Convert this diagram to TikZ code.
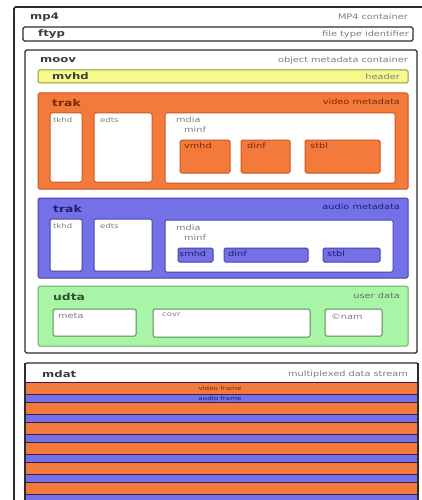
\documentclass[tikz,border=0pt]{standalone}
\usepackage{fontspec}
\setmainfont{DejaVu Sans}
\newfontfamily\widefont[FakeStretch=1.3]{DejaVu Sans}
\usetikzlibrary{positioning}
\definecolor{framegray}{RGB}{45,45,45}
\definecolor{labelgray}{RGB}{60,60,60}
\definecolor{descgray}{RGB}{125,125,125}
\definecolor{vidfill}{RGB}{243,122,58}
\definecolor{viddraw}{RGB}{205,85,30}
\definecolor{vidtext}{RGB}{120,40,10}
\definecolor{audfill}{RGB}{115,112,232}
\definecolor{auddraw}{RGB}{70,68,170}
\definecolor{audtext}{RGB}{30,30,110}
\definecolor{usrfill}{RGB}{168,245,168}
\definecolor{usrdraw}{RGB}{110,170,110}
\definecolor{usrtext}{RGB}{50,80,50}
\definecolor{hdrfill}{RGB}{245,250,140}
\definecolor{hdrdraw}{RGB}{150,150,60}
\definecolor{stripeline}{RGB}{60,30,70}
\tikzset{
    atom/.style={draw=#1, line width=1pt, rounded corners=1.5pt, anchor=north west, inner sep=0pt, outer sep=0pt},
    boxname/.style={font=\widefont\fontsize{9}{9}\selectfont\bfseries, text=labelgray, inner sep=0pt, anchor=west},
    boxdesc/.style={font=\widefont\fontsize{7.5}{7.5}\selectfont, text=descgray, inner sep=0pt, anchor=east},
    subname/.style={font=\widefont\fontsize{6.5}{6.5}\selectfont, text=descgray, inner sep=0pt, anchor=north west}
}
\begin{document}
\begin{tikzpicture}[x=1pt, y=-1pt]
                        \useasboundingbox (0,0) rectangle (422,500);
                        \clip (0,0) rectangle (422,500);
                        \fill[white] (0,0) rectangle (422,500);

                        \node[atom=framegray, line width=1.6pt, minimum width=430pt, minimum height=520pt] (mp4) at (14,7) {};
                        \node[boxname] (mp4name) at (30,17) {mp4};
                        \node[boxdesc] (mp4desc) at (408,17) {MP4 container};

                        \node[atom=framegray, line width=1.4pt, minimum width=390pt, minimum height=14pt] (ftyp) at (23,27) {};
                        \node[boxname, right=15pt of ftyp.west] (ftypname) {ftyp};
                        \node[boxdesc, left=4pt of ftyp.east] (ftypdesc) {file type identifier};

                        \node[atom=framegray, line width=1.4pt, minimum width=392pt, minimum height=303pt] (moov) at (25,50) {};
                        \node[boxname] (moovname) at (40,60) {moov};
                        \node[boxdesc] (moovdesc) at (408,60) {object metadata container};

                        \node[atom=hdrdraw, fill=hdrfill, minimum width=370pt, minimum height=13pt] (mvhd) at (38,70) {};
                        \node[boxname, right=14pt of mvhd.west] (mvhdname) {mvhd};
                        \node[boxdesc, left=8pt of mvhd.east] (mvhddesc) {header};

                        \node[atom=viddraw, fill=vidfill, minimum width=370pt, minimum height=96pt] (vtrak) at (38,93) {};
                        \node[boxname, font=\widefont\fontsize{9.5}{9.5}\selectfont\bfseries, text=vidtext] (vtrakname) at (52,103) {trak};
                        \node[boxdesc, text=vidtext] (vtrakdesc) at (400,102) {video metadata};
                        \node[atom=viddraw, fill=white, minimum width=32pt, minimum height=69pt] (vtkhd) at (50,113) {};
                        \node[atom=viddraw, fill=white, minimum width=58pt, minimum height=69pt] (vedts) at (94,113) {};
                        \node[atom=viddraw, fill=white, minimum width=230pt, minimum height=70pt] (vmdia) at (165,113) {};
                        \node[subname, below right=4pt and 3pt of vtkhd.north west] {tkhd};
                        \node[subname, below right=4pt and 6pt of vedts.north west] {edts};
                        \node[subname, font=\widefont\fontsize{7.5}{7.5}\selectfont, below right=4pt and 11pt of vmdia.north west] (vmdianame) {mdia};
                        \node[subname, font=\widefont\fontsize{7.5}{7.5}\selectfont, below right=3pt and 8pt of vmdianame.south west] {minf};
                        \node[atom=viddraw, fill=vidfill, minimum width=50pt, minimum height=33pt] (vmhd) at (180,140) {};
                        \node[atom=viddraw, fill=vidfill, minimum width=49pt, minimum height=33pt] (vdinf) at (241,140) {};
                        \node[atom=viddraw, fill=vidfill, minimum width=75pt, minimum height=33pt] (vstbl) at (305,140) {};
                        \node[subname, font=\widefont\fontsize{7.5}{7.5}\selectfont, text=vidtext, below right=3pt and 4pt of vmhd.north west] {vmhd};
                        \node[subname, font=\widefont\fontsize{7.5}{7.5}\selectfont, text=vidtext, below right=3pt and 6pt of vdinf.north west] {dinf};
                        \node[subname, font=\widefont\fontsize{7.5}{7.5}\selectfont, text=vidtext, below right=3pt and 5pt of vstbl.north west] {stbl};

                        \node[atom=auddraw, fill=audfill, minimum width=370pt, minimum height=80pt] (atrak) at (38,198) {};
                        \node[boxname, font=\widefont\fontsize{9.5}{9.5}\selectfont\bfseries, text=audtext] (atrakname) at (53,209) {trak};
                        \node[boxdesc, text=audtext] (atrakdesc) at (400,207) {audio metadata};
                        \node[atom=auddraw, fill=white, minimum width=32pt, minimum height=52pt] (atkhd) at (50,219) {};
                        \node[atom=auddraw, fill=white, minimum width=58pt, minimum height=52pt] (aedts) at (94,219) {};
                        \node[atom=auddraw, fill=white, minimum width=228pt, minimum height=52pt] (amdia) at (165,220) {};
                        \node[subname, below right=4pt and 3pt of atkhd.north west] {tkhd};
                        \node[subname, below right=4pt and 6pt of aedts.north west] {edts};
                        \node[subname, font=\widefont\fontsize{7.5}{7.5}\selectfont, below right=5pt and 11pt of amdia.north west] (amdianame) {mdia};
                        \node[subname, font=\widefont\fontsize{7.5}{7.5}\selectfont, below right=3pt and 8pt of amdianame.south west] {minf};
                        \node[atom=auddraw, fill=audfill, minimum width=35pt, minimum height=14pt] (smhd) at (178,248) {};
                        \node[atom=auddraw, fill=audfill, minimum width=84pt, minimum height=14pt] (adinf) at (224,248) {};
                        \node[atom=auddraw, fill=audfill, minimum width=57pt, minimum height=14pt] (astbl) at (323,248) {};
                        \node[subname, font=\widefont\fontsize{7.5}{7.5}\selectfont, text=audtext, below right=3pt and 1pt of smhd.north west] {smhd};
                        \node[subname, font=\widefont\fontsize{7.5}{7.5}\selectfont, text=audtext, below right=3pt and 4pt of adinf.north west] {dinf};
                        \node[subname, font=\widefont\fontsize{7.5}{7.5}\selectfont, text=audtext, below right=3pt and 4pt of astbl.north west] {stbl};

                        \node[atom=usrdraw, fill=usrfill, minimum width=370pt, minimum height=60pt] (udta) at (38,286) {};
                        \node[boxname, font=\widefont\fontsize{9.5}{9.5}\selectfont\bfseries, text=usrtext] (udtaname) at (53,297) {udta};
                        \node[boxdesc, text=usrtext!80] (udtadesc) at (400,296) {user data};
                        \node[atom=usrdraw!80!black, fill=white, minimum width=83pt, minimum height=27pt] (meta) at (53,309) {};
                        \node[atom=usrdraw!80!black, fill=white, minimum width=157pt, minimum height=28pt] (covr) at (153,309) {};
                        \node[atom=usrdraw!80!black, fill=white, minimum width=57pt, minimum height=27pt] (cnam) at (325,309) {};
                        \node[subname, font=\widefont\fontsize{7.5}{7.5}\selectfont, below right=4pt and 5pt of meta.north west] {meta};
                        \node[subname, below right=4pt and 9pt of covr.north west] {covr};
                        \node[subname, font=\widefont\fontsize{7.5}{7.5}\selectfont, below right=5pt and 6pt of cnam.north west] {©nam};

                        \node[atom=framegray, line width=1.4pt, fill=white, minimum width=393pt, minimum height=160pt] (mdat) at (25,363) {};
                        \node[boxname] (mdatname) at (42,374) {mdat};
                        \node[boxdesc] (mdatdesc) at (408,374) {multiplexed data stream};
                        \foreach \k in {0,...,6} {
                            \draw[stripeline, line width=0.9pt, fill=vidfill] (25,382+20*\k) rectangle (418,394+20*\k);
                            \draw[stripeline, line width=0.9pt, fill=audfill] (25,394+20*\k) rectangle (418,402+20*\k);
                        }
                        \node[font=\widefont\fontsize{5.5}{5.5}\selectfont, text=vidtext, inner sep=0pt] (vframe) at (220,388) {video frame};
                        \node[font=\widefont\fontsize{5.5}{5.5}\selectfont, text=audtext, inner sep=0pt] (aframe) at (220,398) {audio frame};
                        \draw[framegray, line width=1.4pt] (mdat.north west) -- (mdat.south west) (mdat.north east) -- (mdat.south east);
                    \end{tikzpicture}
\end{document}
